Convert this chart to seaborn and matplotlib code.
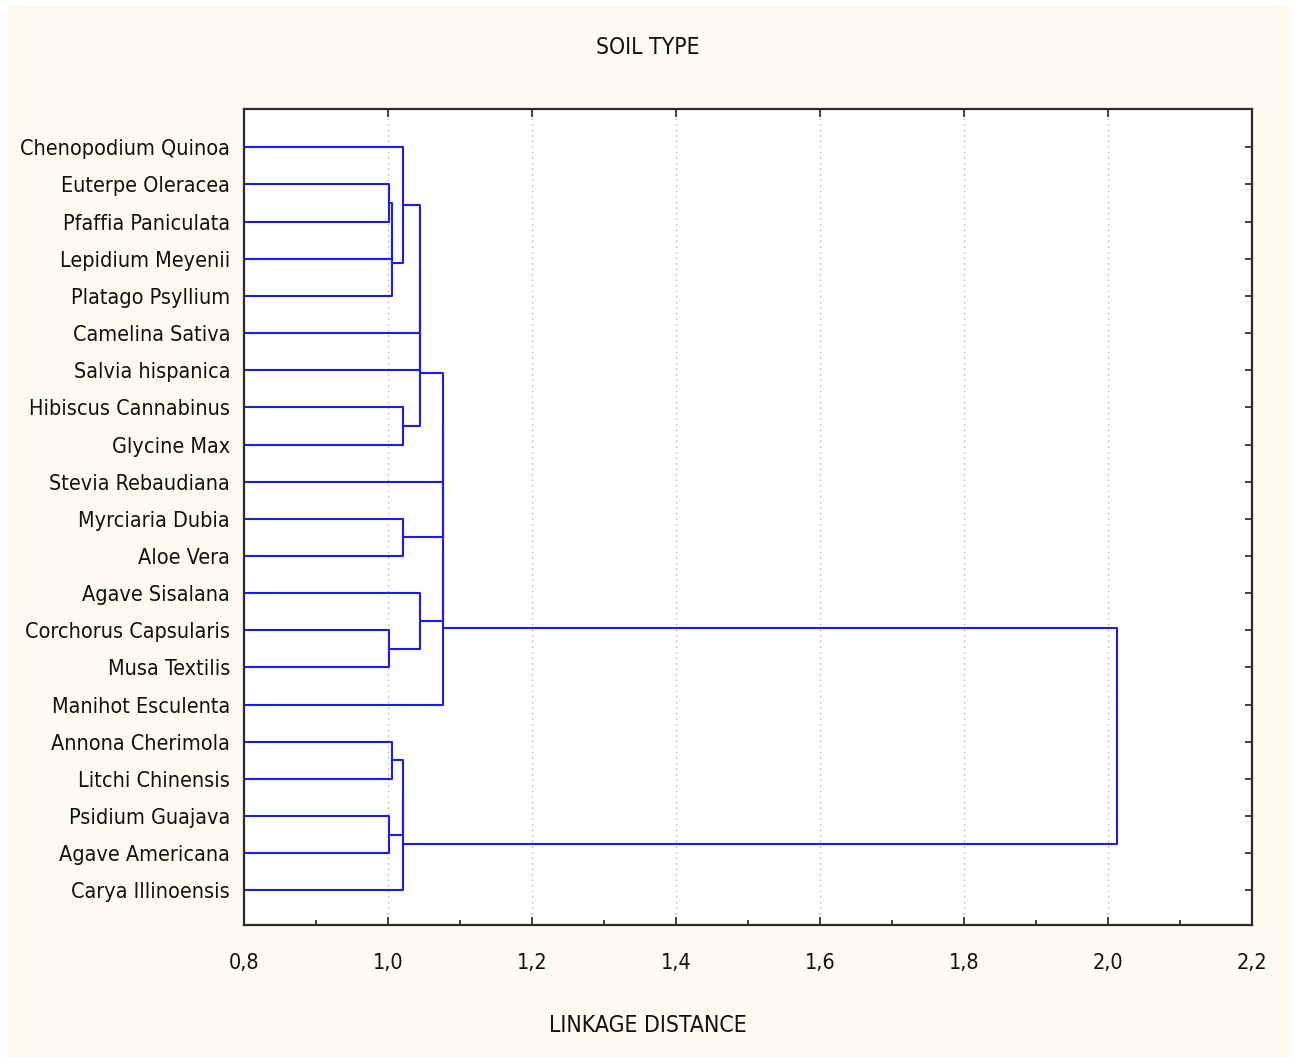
import matplotlib
matplotlib.use("Agg")
import matplotlib.pyplot as plt
from matplotlib import font_manager
from matplotlib.patches import Rectangle
from matplotlib.ticker import FixedLocator, MultipleLocator
import numpy as np
import pandas as pd
import seaborn as sns

# Leaf labels, top to bottom
species = [
    "Chenopodium Quinoa", "Euterpe Oleracea", "Pfaffia Paniculata",
    "Lepidium Meyenii", "Platago Psyllium", "Camelina Sativa",
    "Salvia hispanica", "Hibiscus Cannabinus", "Glycine Max",
    "Stevia Rebaudiana", "Myrciaria Dubia", "Aloe Vera",
    "Agave Sisalana", "Corchorus Capsularis", "Musa Textilis",
    "Manihot Esculenta", "Annona Cherimola", "Litchi Chinensis",
    "Psidium Guajava", "Agave Americana", "Carya Illinoensis",
]

# Agglomeration steps: (cluster a, cluster b, linkage distance).
# Leaves are 0..20, each step creates the next cluster id (21, 22, ...).
merge_a = [1, 13, 18, 21, 24, 16, 0, 7, 10, 26, 30, 27, 32, 33, 12, 34, 36, 37, 38, 39]
merge_b = [2, 14, 19, 3, 4, 17, 25, 8, 11, 23, 20, 5, 6, 28, 22, 9, 29, 35, 15, 31]
merge_h = [1.001, 1.001, 1.001, 1.006, 1.006, 1.006, 1.021, 1.021, 1.021, 1.021,
           1.021, 1.044, 1.044, 1.044, 1.044, 1.077, 1.077, 1.077, 1.077, 2.012]

xtick_values = [0.8, 1.0, 1.2, 1.4, 1.6, 1.8, 2.0, 2.2]
xtick_labels = ["0,8", "1,0", "1,2", "1,4", "1,6", "1,8", "2,0", "2,2"]

title = "SOIL TYPE"
xlabel = "LINKAGE DISTANCE"

# ---- build dendrogram segments ----
x_min = xtick_values[0]
pos = {i: i + 1.0 for i in range(len(species))}
height = {i: x_min for i in range(len(species))}
rows = []
seg = 0
for k, (a, b, h) in enumerate(zip(merge_a, merge_b, merge_h)):
    cid = len(species) + k
    ya, yb = pos[a], pos[b]
    for xx, yy in [(height[a], ya), (h, ya), (h, yb), (height[b], yb)]:
        rows.append({"seg": seg, "x": xx, "y": yy})
    seg += 1
    pos[cid] = (ya + yb) / 2.0
    height[cid] = h
segments = pd.DataFrame(rows)


# ---- pick a narrow sans face if one is installed ----
def narrow_font():
    best = None
    for f in font_manager.fontManager.ttflist:
        name = f.name.lower()
        stretch = str(f.stretch).lower()
        is_narrow = ("narrow" in name or "condensed" in name
                     or stretch in ("condensed", "semi-condensed", "extra-condensed"))
        if not is_narrow or f.style != "normal":
            continue
        if f.weight not in (400, "normal", "regular"):
            continue
        if "mono" in name or "serif" in name and "sans" not in name:
            continue
        if "liberation" in name or "arial" in name:
            score = 3
        elif "roboto" in name or "dejavu sans" in name:
            score = 2
        else:
            score = 1
        if best is None or score > best[0]:
            best = (score, f.fname)
    return best[1] if best else None


sns.set_theme(style="white")
plt.rcParams["font.family"] = ["Liberation Sans", "DejaVu Sans"]
nf = narrow_font()
if nf:
    fp = font_manager.FontProperties(fname=nf)
    fsize, tsize = 15.5, 16.5
else:
    fp = font_manager.FontProperties(family=["Roboto", "Liberation Sans", "DejaVu Sans"])
    fsize, tsize = 14.5, 15.5

W, H = 1296, 1057
fig = plt.figure(figsize=(W / 100, H / 100), dpi=100, facecolor="white")
fig.patches.append(Rectangle((8 / W, 0.0), (1292 - 8) / W, 1 - 6 / H,
                             transform=fig.transFigure, facecolor="#fefaf0",
                             edgecolor="none", zorder=-5))

ax = fig.add_axes([244 / W, 1 - 925 / H, (1252 - 244) / W, (925 - 109) / H])
ax.set_facecolor("white")

sns.lineplot(data=segments, x="x", y="y", units="seg", estimator=None,
             sort=False, color="#1a1aff", linewidth=1.5, ax=ax, legend=False)

ax.set_xlim(xtick_values[0], xtick_values[-1])
ax.set_ylim(len(species) + 0.93, -0.03)

ax.xaxis.set_major_locator(FixedLocator(xtick_values))
ax.set_xticklabels(xtick_labels)
ax.xaxis.set_minor_locator(MultipleLocator(0.1))
ax.set_yticks(np.arange(1, len(species) + 1))
ax.set_yticklabels(species)

for x in xtick_values[1:-1]:
    ax.axvline(x, color="#b4b4b4", linestyle=(0, (1, 3)), linewidth=1.0, zorder=0)

ax.tick_params(axis="x", which="major", direction="in", length=6, width=1.2,
               colors="#222222", labelcolor="#111111", pad=20.5,
               top=True, bottom=True)
ax.tick_params(axis="x", which="minor", direction="in", length=3.5, width=1.2,
               colors="#222222", top=False, bottom=True)
ax.tick_params(axis="y", which="major", direction="in", length=5, width=1.2,
               colors="#222222", labelcolor="#111111", pad=10,
               left=True, right=True)
for lab in ax.get_xticklabels() + ax.get_yticklabels():
    lab.set_fontproperties(fp)
    lab.set_fontsize(fsize)

for s in ax.spines.values():
    s.set_visible(True)
    s.set_color("#2a2a2a")
    s.set_linewidth(1.6)

ax.set_xlabel("")
ax.set_ylabel("")
fig.text(0.5, 1 - 47 / H, title, ha="center", va="center",
         fontproperties=fp, fontsize=tsize, color="#111111")
fig.text(0.5, 1 - 1025 / H, xlabel, ha="center", va="center",
         fontproperties=fp, fontsize=tsize, color="#111111")

fig.savefig("out.png", dpi=100, facecolor=fig.get_facecolor())
